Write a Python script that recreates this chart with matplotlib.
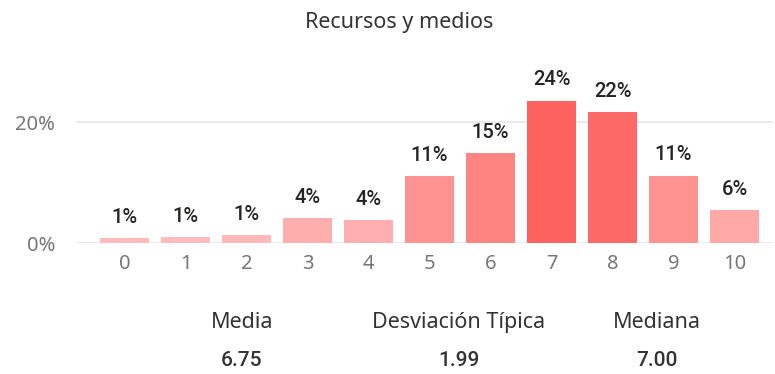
import matplotlib
matplotlib.use("Agg")
import matplotlib.pyplot as plt
from matplotlib.colors import LinearSegmentedColormap, Normalize

# Distribution of scores (percentage of responses per score)
scores = [0, 1, 2, 3, 4, 5, 6, 7, 8, 9, 10]
percentages = [0.8, 1.0, 1.3, 4.1, 3.8, 11.1, 14.9, 23.6, 21.7, 11.2, 5.5]
yticks = [0, 20]
ytick_labels = ["0%", "20%"]

title = "Recursos y medios"
stat_names = ["Media", "Desviación Típica", "Mediana"]
stat_values = [6.75, 1.99, 7.00]

W, H, DPI = 775, 374, 100
fig = plt.figure(figsize=(W / DPI, H / DPI), dpi=DPI)
fig.patch.set_facecolor("white")

def fx(px):
    return px / W

def fy(py):
    return 1 - py / H

ymax = 26
ax = fig.add_axes([fx(76), fy(243.3), fx(773) - fx(76), (ymax / 20) * (fy(122.3) - fy(243.3))])

cmap = LinearSegmentedColormap.from_list("reds", ["#FFBBBB", "#FD625E"])
norm = Normalize(vmin=min(percentages), vmax=max(percentages))
colors = [cmap(norm(v)) for v in percentages]

ax.bar(scores, percentages, width=0.8, color=colors, zorder=3)

sans = ["Noto Sans", "DejaVu Sans"]
label_font = dict(family=["Roboto", "DejaVu Sans"], fontsize=14.5, fontweight="medium", color="#252423")
for x, v in zip(scores, percentages):
    ax.annotate(f"{round(v)}%", xy=(x, v), xytext=(0, 11), textcoords="offset points",
                ha="center", va="baseline", clip_on=False, **label_font)

ax.set_xlim(-0.795, 10.63)
ax.set_ylim(0, ymax)
ax.set_yticks(yticks)
ax.set_yticklabels(ytick_labels)
ax.set_xticks(scores)
ax.set_xticklabels([str(s) for s in scores])

ax.grid(axis="y", color="#E6E6E6", linewidth=1.2, zorder=0)
ax.set_axisbelow(True)
for s in ax.spines.values():
    s.set_visible(False)
ax.tick_params(axis="both", length=0, colors="#777777", labelsize=14.5)
ax.tick_params(axis="x", pad=8)
ax.tick_params(axis="y", pad=15)
for lbl in ax.get_xticklabels() + ax.get_yticklabels():
    lbl.set_family(sans)

fig.text(fx(399), fy(28), title, ha="center", va="baseline", fontsize=15.5,
         color="#333333", family=sans)

stat_x = [242, 459, 657]
for x, name, val in zip(stat_x, stat_names, stat_values):
    fig.text(fx(x), fy(328), name, ha="center", va="baseline", fontsize=15.5,
             color="#333333", family=sans)
    fig.text(fx(x), fy(366), f"{val:.2f}", ha="center", va="baseline", fontsize=15,
             fontweight="medium", color="#333333", family=["Roboto", "DejaVu Sans"])

fig.savefig("out.png", dpi=DPI, facecolor="white")
